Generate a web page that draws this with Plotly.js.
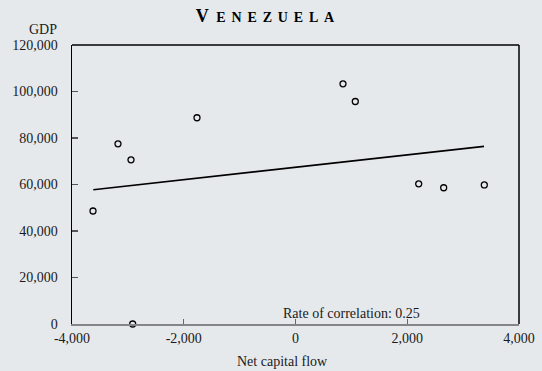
<!DOCTYPE html>
<html>
<head>
<meta charset="utf-8">
<script src="https://cdn.plot.ly/plotly-3.0.1.min.js"></script>
<style>
  html, body { margin: 0; padding: 0; background: #e6e9ec; }
  #chart { width: 542px; height: 371px; }
</style>
</head>
<body>
<div id="chart"></div>
<script>
// Venezuela: net capital flow vs GDP, yearly observations
const netCapitalFlow = [-3624, -3177, -2944, -2914, -1763, 850, 1070, 2205, 2652, 3379];
const gdp = [48600, 77500, 70600, 0, 88700, 103300, 95700, 60300, 58600, 59800];

// fitted trend line end points
const trendX = [-3619, 3374];
const trendY = [57760, 76390];

const xTicks = [-4000, -2000, 0, 2000, 4000];
const yTicks = [0, 20000, 40000, 60000, 80000, 100000, 120000];
const correlation = 0.25;

const fmt = v => (v < 0 ? '-' : '') + Math.abs(v).toLocaleString('en-US');

const serif = '"Liberation Serif", "Times New Roman", serif';
const ink = '#1a1a1a';

// spaced small-caps title
const gap = '\u2005\u2006';
const titleText = '<b><span style="font-size:18px">V</span>' + gap +
  '<span style="font-size:14px">' + 'ENEZUELA'.split('').join(gap) + '</span></b>';

const traces = [
  {
    x: trendX, y: trendY, mode: 'lines', type: 'scatter',
    line: { color: '#000', width: 1.6 }, hoverinfo: 'skip'
  },
  {
    x: netCapitalFlow, y: gdp, mode: 'markers', type: 'scatter',
    marker: { symbol: 'circle-open', size: 6, color: '#000', line: { color: '#000', width: 1.3 } },
    cliponaxis: false
  }
];

const layout = {
  width: 542, height: 371,
  margin: { l: 72, r: 23, t: 45, b: 47 },
  paper_bgcolor: '#e6e9ec',
  plot_bgcolor: '#e6e9ec',
  showlegend: false,
  font: { family: serif, size: 14, color: ink },
  title: {
    text: titleText,
    font: { family: serif, size: 18, color: '#000' },
    xref: 'container', x: 0.489, xanchor: 'center',
    yref: 'container', y: 0.957, yanchor: 'middle'
  },
  xaxis: {
    range: [-4000, 4000],
    tickvals: xTicks, ticktext: xTicks.map(fmt),
    showgrid: false, zeroline: false,
    showline: true, linecolor: '#858585', linewidth: 2,
    ticks: 'inside', ticklen: 5, tickcolor: '#666', tickwidth: 1.3,
    ticklabelstandoff: 0,
    tickfont: { family: serif, size: 14, color: ink }
  },
  yaxis: {
    range: [0, 120000],
    tickvals: yTicks, ticktext: yTicks.map(fmt),
    showgrid: false, zeroline: false,
    showline: true, linecolor: '#000', linewidth: 1.5,
    ticks: 'inside', ticklen: 6, tickcolor: '#555', tickwidth: 1.3,
    ticklabelstandoff: 10,
    tickfont: { family: serif, size: 14, color: ink }
  },
  shapes: [
    { type: 'line', xref: 'paper', yref: 'paper', x0: 0, x1: 1, y0: 1, y1: 1, line: { color: '#000', width: 1.5 } },
    { type: 'line', xref: 'paper', yref: 'paper', x0: 1, x1: 1, y0: 0, y1: 1, line: { color: '#000', width: 1.5 } }
  ],
  annotations: [
    {
      text: 'GDP', xref: 'paper', yref: 'paper', x: -0.0655, y: 1.054,
      xanchor: 'center', yanchor: 'middle', showarrow: false,
      font: { family: serif, size: 14, color: ink }
    },
    {
      text: 'Net capital flow', xref: 'paper', yref: 'paper', x: 0.472, y: -0.136,
      xanchor: 'center', yanchor: 'middle', showarrow: false,
      font: { family: serif, size: 14, color: ink }
    },
    {
      text: 'Rate of correlation: ' + correlation.toFixed(2),
      xref: 'x', yref: 'paper', x: 1006, y: 0.0384,
      xanchor: 'center', yanchor: 'middle', showarrow: false,
      font: { family: serif, size: 14, color: ink }
    }
  ]
};

Plotly.newPlot('chart', traces, layout, { displayModeBar: false, staticPlot: true });
</script>
</body>
</html>
